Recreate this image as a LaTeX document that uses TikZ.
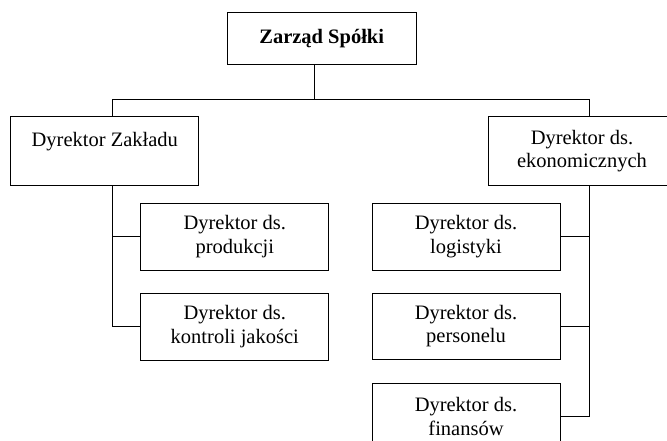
\documentclass[tikz,border=0pt]{standalone}
\usepackage{fontspec}
\setmainfont{Liberation Serif}
\begin{document}
\begin{tikzpicture}[x=1pt,y=-1pt,
  box/.style={draw,rectangle,line width=1pt,inner sep=0pt,outer sep=0pt,
    align=center,font=\fontsize{20.5}{23.5}\selectfont,text=black},
  conn/.style={line width=1pt}]
\clip (0,0) rectangle (667,440);
\fill[white] (0,0) rectangle (667,440);
\node[box,minimum width=189pt,minimum height=51.6pt,font=\fontsize{20.5}{23.5}\selectfont\bfseries] (top) at (321.7,38.5) {Zarząd Spółki};
\node[box,minimum width=188.3pt,minimum height=69pt] (left) at (104.8,151.2) {Dyrektor Zakładu\\\mbox{}};
\node[box,minimum width=188pt,minimum height=69pt] (right) at (582,151.2) {Dyrektor ds.\\ekonomicznych};
\node[box,minimum width=188.3pt,minimum height=67pt] (prod) at (234.8,236.5) {Dyrektor ds.\\produkcji};
\node[box,minimum width=188.3pt,minimum height=67pt] (kontr) at (234.8,326.5) {Dyrektor ds.\\kontroli jakości};
\node[box,minimum width=188pt,minimum height=67pt] (log) at (466,236.5) {Dyrektor ds.\\logistyki};
\node[box,minimum width=188pt,minimum height=66pt] (pers) at (466,326) {Dyrektor ds.\\personelu};
\node[box,minimum width=188pt,minimum height=67pt] (fin) at (466,416.5) {Dyrektor ds.\\finansów};
\coordinate (hub) at (314,99);
\coordinate (jl) at (112,99);
\coordinate (jr) at (589,99);
\draw[conn] (top.south -| hub) -- (hub);
\draw[conn] (jl) -- (jr);
\draw[conn] (jl) -- (jl |- left.north);
\draw[conn] (jr) -- (jr |- right.north);
\draw[conn] (jl |- left.south) -- (jl |- kontr.west) -- (kontr.west);
\draw[conn] (jl |- prod.west) -- (prod.west);
\draw[conn] (jr |- right.south) -- (jr |- fin.east) -- (fin.east);
\draw[conn] (jr |- log.east) -- (log.east);
\draw[conn] (jr |- pers.east) -- (pers.east);
\end{tikzpicture}
\end{document}
